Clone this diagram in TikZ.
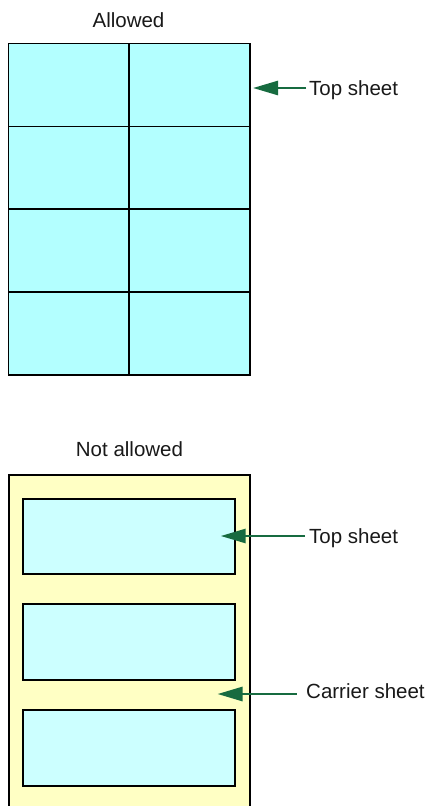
\documentclass[tikz,border=0pt]{standalone}
\usepackage{fontspec}
\setmainfont{Liberation Sans}
\usetikzlibrary{arrows.meta}
\definecolor{gridcyan}{HTML}{B3FFFF}
\definecolor{innercyan}{HTML}{CCFFFF}
\definecolor{carrieryellow}{HTML}{FFFFC4}
\definecolor{arrowgreen}{HTML}{176B40}
\tikzset{
  lbl/.style={font=\fontsize{20.5}{24}\selectfont, inner sep=0pt, text=black!90},
  gridline/.style={draw=black, line width=1.7pt},
  sheetbox/.style={draw=black, line width=2pt},
  pointer/.style={draw=arrowgreen, line width=2.7pt, -{Triangle[length=25pt,width=14pt]}, arrowgreen}
}
\begin{document}
\begin{tikzpicture}[x=1pt,y=-1pt]
\clip (0,0) rectangle (432,806);
\fill[white] (0,0) rectangle (432,806);

% Allowed
\node[lbl, anchor=base] (allowed) at (128.5,27) {Allowed};
\fill[gridcyan] (8.5,43.5) rectangle (250,375);
\foreach \yy in {126.4,209.2,292.1}
  \draw[gridline] (8.5,\yy) -- (250,\yy);
\draw[draw=black, line width=2.3pt] (129.3,43.5) -- (129.3,375);
\draw[gridline] (8.5,43.5) rectangle (250,375);

\node[lbl, anchor=base west] (top1) at (309,95) {Top sheet};
\coordinate (tail1) at (306,88);
\coordinate (tip1) at (253,88);
\draw[pointer] (tail1) -- (tip1);

% Not allowed
\node[lbl, anchor=base] (notallowed) at (129.5,456.7) {Not allowed};
\draw[sheetbox, fill=carrieryellow] (8.5,474.5) rectangle (250,830);
\draw[sheetbox, fill=innercyan] (22.8,498.5) rectangle (235.2,573.5);
\draw[sheetbox, fill=innercyan] (22.8,604) rectangle (235.2,680);
\draw[sheetbox, fill=innercyan] (22.8,710) rectangle (235.2,785.7);

\node[lbl, anchor=base west] (top2) at (309,543.3) {Top sheet};
\coordinate (tail2) at (305,536);
\coordinate (tip2) at (220.7,536);
\draw[pointer] (tail2) -- (tip2);

\node[lbl, anchor=base west] (carrier) at (306,698.3) {Carrier sheet};
\coordinate (tail3) at (296.7,694);
\coordinate (tip3) at (217.5,694);
\draw[pointer] (tail3) -- (tip3);
\end{tikzpicture}
\end{document}
